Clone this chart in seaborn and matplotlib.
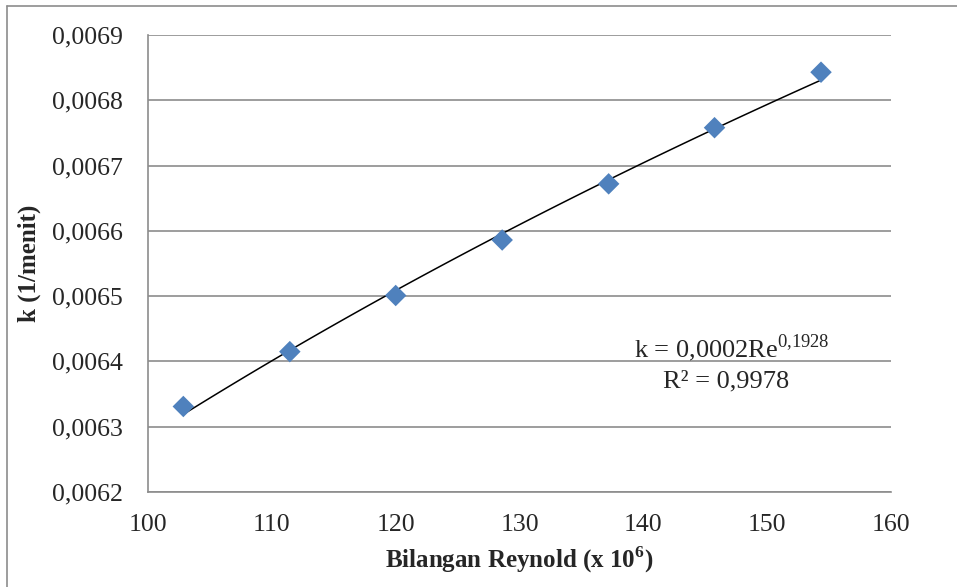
import numpy as np
import pandas as pd
import matplotlib
matplotlib.use("Agg")
import matplotlib.pyplot as plt
import seaborn as sns
from matplotlib.ticker import FuncFormatter
from matplotlib.lines import Line2D

# Data
reynold = [102.85, 111.45, 120.0, 128.6, 137.2, 145.75, 154.35]
k_values = [0.006331, 0.006415, 0.006501, 0.006586, 0.006672, 0.006758, 0.006843]
x_ticks = [100, 110, 120, 130, 140, 150, 160]
y_ticks = [0.0062, 0.0063, 0.0064, 0.0065, 0.0066, 0.0067, 0.0068, 0.0069]

df = pd.DataFrame({"Re": reynold, "k": k_values})

sns.set_style("white")
plt.rcParams["font.family"] = ["Liberation Serif", "DejaVu Serif"]
plt.rcParams["mathtext.fontset"] = "custom"
plt.rcParams["mathtext.rm"] = "Liberation Serif"
plt.rcParams["mathtext.bf"] = "Liberation Serif:bold"

fig = plt.figure(figsize=(9.57, 5.87), dpi=100)
ax = fig.add_axes([0.1547, 0.1618, 0.931 - 0.1547, 0.9404 - 0.1618])

# power trendline fitted on log-log
b, log_a = np.polyfit(np.log(df["Re"]), np.log(df["k"]), 1)
xs = np.linspace(df["Re"].min(), df["Re"].max(), 100)
ax.plot(xs, np.exp(log_a) * xs ** b, color="black", lw=1.1, zorder=3)

sns.scatterplot(data=df, x="Re", y="k", marker="D", s=120, color="#4F81BD",
                edgecolor="none", ax=ax, zorder=4)

ax.set_xlim(100, 160)
ax.set_ylim(0.0062, 0.0069)
ax.set_xticks(x_ticks)
ax.set_yticks(y_ticks)
ax.yaxis.set_major_formatter(FuncFormatter(lambda v, p: f"{v:.4f}".replace(".", ",")))
ax.grid(axis="y", color="#8c8c8c", lw=1.2)
ax.set_axisbelow(True)
for s in ["top", "right"]:
    ax.spines[s].set_visible(False)
for s in ["left", "bottom"]:
    ax.spines[s].set_color("#8c8c8c")
    ax.spines[s].set_linewidth(1.2)
ax.tick_params(axis="both", direction="out", length=6, width=1.2, color="#8c8c8c",
               labelsize=18.5)
ax.tick_params(axis="y", pad=12)
ax.tick_params(axis="x", pad=10)

ax.set_xlabel(r"Bilangan Reynold (x 10$^{\mathbf{6}}$)", fontsize=18, fontweight="bold", labelpad=6)
ax.set_ylabel("k (1/menit)", fontsize=18, fontweight="bold", labelpad=8)

ax.text(732 / 957, 1 - 348 / 587, r"k = 0,0002Re$^{\mathrm{0{,}1928}}$", transform=fig.transFigure,
        ha="center", va="center", fontsize=19)
ax.text(726 / 957, 1 - 381 / 587, "R² = 0,9978", transform=fig.transFigure,
        ha="center", va="center", fontsize=19)

# outer frame of the chart
fig.add_artist(Line2D([7 / 957, 1], [1 - 6 / 587, 1 - 6 / 587], color="#8c8c8c", lw=1.2))
fig.add_artist(Line2D([7 / 957, 7 / 957], [0, 1 - 6 / 587], color="#8c8c8c", lw=1.2))

fig.savefig("out.png", dpi=100)
